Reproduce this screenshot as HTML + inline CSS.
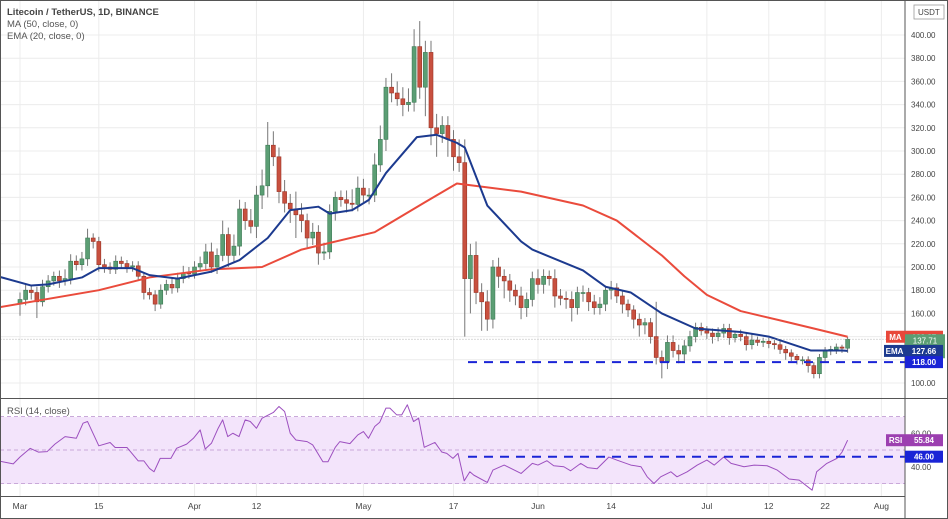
<!DOCTYPE html>
<html><head><meta charset="utf-8"><style>
body{margin:0;background:#fff;font-family:"Liberation Sans",sans-serif;}
svg{display:block}
text{font-family:"Liberation Sans",sans-serif}
</style></head><body>
<svg id="chart" width="948" height="519">
<defs><clipPath id="mainclip"><rect x="0" y="0" width="905" height="398"/></clipPath>
<clipPath id="rsiclip"><rect x="0" y="399" width="905" height="97"/></clipPath></defs>
<rect x="0" y="0" width="948" height="519" fill="#fff"/>
<g id="grid"></g>
<rect x="0" y="417" width="905" height="67" fill="#f3e4fb"/>
<g id="rsiGuides"></g>
<g id="candles" clip-path="url(#mainclip)"></g>
<g id="lines" clip-path="url(#mainclip)"></g>
<g id="rsiLine" clip-path="url(#rsiclip)"></g>
<g id="axes"></g>
<text x="7" y="15" font-size="9.5" font-weight="bold" fill="#444">Litecoin / TetherUS, 1D, BINANCE</text>
<text x="7" y="27" font-size="9.5" fill="#555">MA (50, close, 0)</text>
<text x="7" y="39" font-size="9.5" fill="#555">EMA (20, close, 0)</text>
<text x="7" y="414" font-size="9.5" fill="#555">RSI (14, close)</text>
<g><rect x="914" y="5" width="30" height="14" fill="#fff" stroke="#999" stroke-width="0.8"/><text x="918" y="15" font-size="8" fill="#444">USDT</text></g>
</svg>
<script>
const closes=[172,180,178,170,183,188,192,188,190,205,202,207,225,222,202,200,198,205,203,200,201,192,178,176,168,180,185,182,190,195,194,
200,203,213,200,210,228,210,218,250,240,235,262,270,305,295,265,255,250,245,240,225,230,212,213,248,260,258,255,254,268,
262,262,288,310,355,350,345,340,342,390,355,385,320,315,322,310,295,290,190,210,178,170,155,200,192,188,180,175,165,172,190,
185,192,190,175,173,172,165,178,178,170,165,168,180,182,175,168,163,155,150,152,140,122,118,135,128,125,132,140,148,145,
143,140,143,147,139,142,140,133,137,135,136,134,133,129,126,123,120,120,115,108,122,128,129,131,130,137.7];
const wickUp=[6,5,4,5,6,5,4,5,8,6,5,6,8,4,4,5,4,5,4,3,4,4,3,4,4,5,4,5,5,6,5,
5,6,7,8,6,12,6,10,8,6,10,8,14,20,12,8,10,8,15,10,6,8,6,8,6,5,6,8,12,10,
8,6,10,12,8,12,10,10,12,15,22,10,10,12,8,8,8,15,20,10,12,8,10,6,8,6,6,5,8,6,6,
8,6,5,8,6,6,7,5,6,4,6,6,4,6,4,5,4,4,5,4,4,30,6,6,6,5,5,5,4,4,
4,4,5,4,4,3,4,4,5,3,3,3,3,4,3,3,2,3,3,3,3,3,3,3,2,2];
const wickDn=[10,5,6,14,4,5,4,6,4,5,5,5,6,6,6,5,4,4,4,5,4,4,6,4,6,4,4,5,4,4,4,
4,4,5,5,6,5,10,6,8,8,6,10,12,10,8,10,8,12,20,10,8,6,10,6,6,8,6,8,6,6,
6,8,6,6,10,8,6,10,6,8,10,25,15,20,8,15,12,8,50,30,10,25,10,8,10,15,10,8,10,8,6,
8,8,6,10,6,8,12,6,8,8,6,6,6,8,6,8,6,8,10,8,6,6,14,6,6,8,6,5,5,4,
5,6,4,4,6,4,4,5,4,3,4,4,4,4,6,4,4,4,6,4,4,4,4,4,4,4];
const maDays=[-4,14,23,34,43,50,63,72,77.6,89,100,106,110,114,118,122,128,135,141,147];
const maVals=[165,180,191,198,200,215,230,256,272,265,253,240,225,210,192,176,162,154,147,139.87];
const emaDays=[-4,2,5,11,14,20,23,28,34,39,44,48,53,55,59,62,65,70.5,74,77.6,79,83,89,91,100,104,108.5,114,120,128,133,140.5,146,147];
const emaVals=[192,184,185,191,199,199,193,190,196,206,225,249,252,246,249,258,281,312,314,307,303,253,222,215,197,183,178,160,147,144,140,128,128,127.66];
const rsiDays=[-4,-1.2,0,1.8,3.3,4.8,6.2,8,10,11.2,12,14,16,16.9,19,21,22,23,23.8,24.9,26.8,27.8,29.6,30.8,32,32.9,34,35.2,36,36.9,37.8,38.9,40,40.9,42,43,45,46,47,48,49,51,52,53.8,54.7,56,56.8,58.6,60,61,61.9,63,63.9,65,65.7,66.9,67.8,68.8,69.9,70.8,71.8,73.7,74.9,75.8,76.9,77.8,78.9,79.9,80.6,83,84,86,89,91,92,93.6,94.8,96.6,97.8,99.6,100.8,102.5,104.6,106,108.5,110.3,111.4,112.6,113.8,115.6,116.7,118.5,120.3,122,123.3,125,126.3,128.6,130.4,132.7,134.5,136.6,138.4,140.7,141.5,143.3,145.1,146,147];
const rsiVals=[43.6,41.7,45.8,51,48.7,49,53.5,58,57,66,67,52.5,54.5,51.5,51.5,43.5,43.5,39,37,45,45,51,53.5,57,62,50.6,54,63,68,58,60,58,68,67,63,69,72.4,76,73,60,56,55,53,43,43,51.6,55,53.8,59,61,57,64,66.6,75,75,71,71,77,67,69,51.6,54.5,48.8,48,45,48,31.6,37,35,30.6,38,41,36,42,41,43.6,40.6,40,37.6,42,39.5,38.8,45.8,44,41,40,34,30,34,37,34,37,41,44,41,45.8,42,40,41,40.6,38,32.7,32,26,37,42,45,48.7,55.84];
const priceTicks=[100,120,140,160,180,200,220,240,260,280,300,320,340,360,380,400];
const rsiTicks=[40,60];
const timeLabels=["Mar","15","Apr","12","May","17","Jun","14","Jul","12","22","Aug"];
const timeDays=[0,14,31,42,61,77,92,105,122,133,143,153];

const NS="http://www.w3.org/2000/svg";
const X=d=>20+d*5.63;
const Y=p=>383-(p-100)*1.16;
const RY=r=>450-(r-50)*1.675;
function mk(tag,attrs,parent){const e=document.createElementNS(NS,tag);for(const k in attrs)e.setAttribute(k,attrs[k]);parent.appendChild(e);return e;}
const grid=document.getElementById('grid'),axes=document.getElementById('axes');
priceTicks.forEach(p=>{const l=mk('line',{x1:0,x2:905,y1:Y(p),y2:Y(p),stroke:'#ececec'},grid);


const t=mk('text',{x:911,y:Y(p)+3,'font-size':8,fill:'#444'},axes);t.textContent=p.toFixed(2);

});
timeDays.forEach((d,i)=>{mk('line',{x1:X(d),x2:X(d),y1:0,y2:497,stroke:'#ececec'},grid);
const t=mk('text',{x:X(d),y:509,'font-size':8.5,fill:'#444','text-anchor':'middle'},axes);t.textContent=timeLabels[i];

});
const rg=document.getElementById('rsiGuides');
[70,50,30].forEach(r=>mk('line',{x1:0,x2:905,y1:RY(r),y2:RY(r),stroke:'#c9a9d9','stroke-dasharray':'4,3'},rg));
rsiTicks.forEach(r=>{const t=mk('text',{x:911,y:RY(r)+3,'font-size':8,fill:'#444'},axes);t.textContent=r.toFixed(2);

});
mk('line',{x1:905,x2:905,y1:0,y2:519,stroke:'#555'},axes);
mk('line',{x1:0,x2:948,y1:398.5,y2:398.5,stroke:'#555'},axes);
mk('line',{x1:0,x2:905,y1:496.5,y2:496.5,stroke:'#555'},axes);
mk('rect',{x:0.5,y:0.5,width:947,height:518,fill:'none',stroke:'#555'},axes);
const cg=document.getElementById('candles');
closes.forEach((c,d)=>{const o=d===0?168:closes[d-1];const up=c>=o;
const col=up?'#5b9e74':'#c8503f',edge=up?'#3d7a55':'#9b3527';
const hi=Math.max(o,c)+wickUp[d],lo=Math.min(o,c)-wickDn[d];
const w=mk('line',{x1:X(d),x2:X(d),y1:Y(hi),y2:Y(lo),stroke:'#777','stroke-width':1},cg);


const top=Y(Math.max(o,c)),h=Math.max(1,Math.abs(Y(o)-Y(c)));
const b=mk('rect',{x:X(d)-2,y:top,width:4,height:h,fill:col,stroke:edge,'stroke-width':0.6},cg);

});
const lg=document.getElementById('lines');
function poly(days,vals,yf,color,wid,parent,name){const p=mk('polyline',{points:days.map((d,i)=>X(d)+','+yf(vals[i])).join(' '),fill:'none',stroke:color,'stroke-width':wid,'stroke-linejoin':'round'},parent);

}
poly(maDays,maVals,Y,'#ea4b3c',2,lg,'ma50-line');
poly(emaDays,emaVals,Y,'#1c3a8f',2,lg,'ema20-line');
mk('line',{x1:X(-4),x2:905,y1:Y(137.71),y2:Y(137.71),stroke:'#999','stroke-dasharray':'1,2','stroke-width':0.7},lg);
mk('line',{x1:468,x2:905,y1:Y(118),y2:Y(118),stroke:'#1a24d6','stroke-width':2,'stroke-dasharray':'9,7'},lg);
poly(rsiDays,rsiVals,RY,'#9c4fbf',1,document.getElementById('rsiLine'),'rsi-line');
mk('line',{x1:468,x2:905,y1:RY(46),y2:RY(46),stroke:'#1a24d6','stroke-width':2,'stroke-dasharray':'9,7'},document.getElementById('rsiLine'));
function tag(x,y,w,h,fill,txt,name){const g=mk('g',{},axes);


mk('rect',{x:x,y:y,width:w,height:h,fill:fill},g);const t=mk('text',{x:x+w/2,y:y+h-3,'font-size':8,fill:'#fff','text-anchor':'middle','font-weight':'bold'},g);t.textContent=txt;}
tag(886,Y(139.87)-6,19,12,'#e8483a','MA','ma-tag');
tag(905,Y(139.87)-6,38,12,'#e8483a','139.87','ma-value-label');
const gb=mk('g',{},axes);


mk('rect',{x:905,y:Y(137.71)-5,width:40,height:24,fill:'#5b9e74'},gb);
let tt=mk('text',{x:925,y:Y(137.71)+4,'font-size':8,fill:'#fff','text-anchor':'middle'},gb);tt.textContent='137.71';
tt=mk('text',{x:925,y:Y(137.71)+15,'font-size':7.5,fill:'#fff','text-anchor':'middle'},gb);tt.textContent='07:38:32';
tag(884,Y(127.66)-6,21,12,'#1c3a8f','EMA','ema-tag');
tag(905,Y(127.66)-6,38,12,'#1c3a8f','127.66','ema-value-label');
tag(905,Y(118)-6,38,12,'#1a24d6','118.00','support-label');
tag(886,RY(55.84)-6,19,12,'#9c3fb0','RSI','rsi-tag');
tag(905,RY(55.84)-6,38,12,'#9c3fb0','55.84','rsi-value-label');
tag(905,RY(46)-6,38,12,'#1a24d6','46.00','rsi-level-label');
</script>
</body></html>
